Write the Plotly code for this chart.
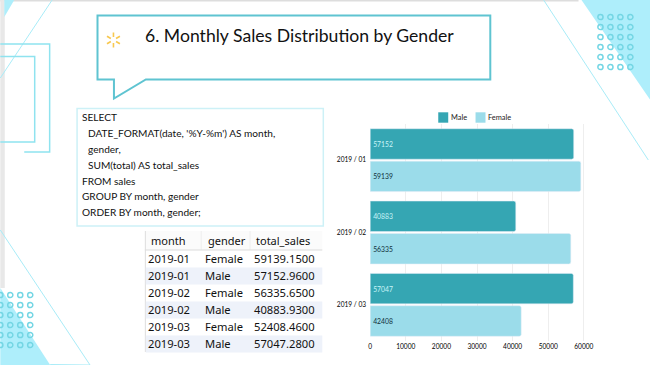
import plotly.graph_objects as go

months = ["2019 / 01", "2019 / 02", "2019 / 03"]
male = [57152, 40883, 57047]
female = [59139, 56335, 42408]
title_text = "6. Monthly Sales Distribution by Gender"
sql_lines = ["SELECT", "  DATE_FORMAT(date, '%Y-%m') AS month,", "  gender,", "  SUM(total) AS total_sales",
             "FROM sales", "GROUP BY month, gender", "ORDER BY month, gender;"]
table_header = ["month", "gender", "total_sales"]
table_month = ["2019-01", "2019-01", "2019-02", "2019-02", "2019-03", "2019-03"]
table_gender = ["Female", "Male", "Female", "Male", "Female", "Male"]
table_total = ["59139.1500", "57152.9600", "56335.6500", "40883.9300", "52408.4600", "57047.2800"]

W, H = 650, 365
TEAL, LIGHT = "#35a6b3", "#9bdcea"
DECOR, LINE, RING = "#aeeefb", "#a9ecf8", "#74d6e4"
FONT = "Lato, sans-serif"
X_SHIFT = 1.7


def px(x):
    return (x - X_SHIFT) / W


def py(y):
    return 1 - y / H


def path(points, close=False):
    d = "M" + " L".join(f"{px(x):.5f},{py(y):.5f}" for x, y in points)
    return d + (" Z" if close else "")


shapes = []


def poly(points, fill=None, color=None, width=1, close=True):
    shapes.append(dict(type="path", xref="paper", yref="paper", layer="below", path=path(points, close),
                       fillcolor=fill if fill else "rgba(0,0,0,0)",
                       line=dict(color=color if color else "rgba(0,0,0,0)", width=width if color else 0)))


def rect(x0, y0, x1, y1, fill=None, color=None, width=1):
    poly([(x0, y0), (x1, y0), (x1, y1), (x0, y1)], fill, color, width)


# page edges
rect(0, 0, 580, 1.5, fill="#dddddd")
rect(0, 0, 4.5, 288, fill="#e8e8e8")

# corner decorations
poly([(4, 0), (14, 0), (4, 17)], fill=DECOR)
poly([(583, 0), (652, 0), (652, 100)], fill=DECOR)
poly([(0, 288), (50, 365), (0, 365)], fill=DECOR)
poly([(52, 0), (0, 78)], color=LINE, close=False)
poly([(0, 230), (90, 365), (50, 364.5)], color=LINE, close=False)
poly([(545, 0), (650, 160)], color=LINE, close=False)
poly([(0, 44), (49.5, 44), (49.5, 152), (24, 152)], color="#8fe3ef", width=1.5, close=False)
poly([(0, 56.5), (34.5, 56.5), (34.5, 142), (0, 142)], color="#8fe3ef", width=1.5, close=False)

for cx in (602, 612, 622, 632):
    for cy in (17, 27, 37, 47, 57, 67):
        shapes.append(dict(type="circle", xref="paper", yref="paper", layer="below",
                           x0=px(cx - 2.6), x1=px(cx + 2.6), y0=py(cy + 2.6), y1=py(cy - 2.6),
                           line=dict(color=RING, width=1.5)))
for cx in (0, 10, 20, 30):
    for cy in (295, 305, 315, 325, 335, 345):
        shapes.append(dict(type="circle", xref="paper", yref="paper", layer="below",
                           x0=px(cx - 2.6), x1=px(cx + 2.6), y0=py(cy + 2.6), y1=py(cy - 2.6),
                           line=dict(color=RING, width=1.5)))

# callout
poly([(97.5, 15.5), (491.5, 15.5), (491.5, 79.5), (146, 79.5), (114, 98.5), (114, 79.5), (97.5, 79.5)],
     fill="white", color="#5fc4d1", width=2)
# spark
for dx0, dy0, dx1, dy1 in [(0, -3, 0, -7.5), (0, 3, 0, 7.5), (2.6, -1.5, 6.5, -3.8),
                           (2.6, 1.5, 6.5, 3.8), (-2.6, -1.5, -6.5, -3.8), (-2.6, 1.5, -6.5, 3.8)]:
    poly([(113.5 + dx0, 40 + dy0), (113.5 + dx1, 40 + dy1)], color="#f8c84e", width=1.6, close=False)

# SQL box
rect(77, 108.5, 324, 226, fill="white", color="#cdf1f7", width=1.5)

# result table
rect(145, 231, 323, 250, fill="#fbfbfb")
for sep in (201, 250):
    rect(sep, 231, sep + 1, 250, fill="#eeeeee")
rect(145, 249.5, 323, 250.5, fill="#dcdcdc")
rect(145, 231, 146, 352, fill="#dddddd")
for row in (1, 3, 5):
    rect(146, 250.5 + row * 17, 323, 250.5 + (row + 1) * 17, fill="#eef2fa")

annotations = []


def label(x, y, text, size, color="#111111", family=FONT):
    annotations.append(dict(xref="paper", yref="paper", x=px(x - 2), y=py(y), text=text, showarrow=False,
                            xanchor="left", yanchor="middle", align="left",
                            font=dict(size=size, color=color, family=family)))


label(145.5, 35.5, title_text, 17.6)
for i, line in enumerate(sql_lines):
    indent = len(line) - len(line.lstrip())
    label(82 + indent * 3, 117 + i * 15.9, line.strip(), 10.1)
TABLE_FONT = "'Noto Sans', sans-serif"
for x, text in zip((151, 208, 256), table_header):
    label(x, 240.5, text, 11, family=TABLE_FONT)
for i, (m, g, t) in enumerate(zip(table_month, table_gender, table_total)):
    y = 258.5 + i * 17
    label(148, y, m, 11.2, family=TABLE_FONT)
    label(205, y, g, 11.2, family=TABLE_FONT)
    label(254, y, t, 11.2, family=TABLE_FONT)

fig = go.Figure()
fig.add_bar(name="Male", y=months, x=male, orientation="h", marker=dict(color=TEAL, cornerradius=2),
            text=male, textposition="inside", insidetextanchor="start", constraintext="none",
            textfont=dict(color="#c9f4f8", size=6.8, family=FONT))
fig.add_bar(name="Female", y=months, x=female, orientation="h", marker=dict(color=LIGHT, cornerradius=2),
            text=female, textposition="inside", insidetextanchor="start", constraintext="none",
            textfont=dict(color="#10303a", size=6.8, family=FONT))

# legend drawn by hand so swatch and label spacing match
for x0, text_x, color, name in ((439.3, 452, TEAL, "Male"), (476.7, 489.5, LIGHT, "Female")):
    rect(x0, 112.3, x0 + 10, 122.7, fill=color)
    label(text_x, 117.5, name, 7.4, color="#222222")

fig.update_layout(
    width=W, height=H, margin=dict(l=0, r=0, t=0, b=0), autosize=False, showlegend=False,
    paper_bgcolor="white", plot_bgcolor="rgba(0,0,0,0)",
    barmode="group", bargap=0.104, bargroupgap=0.06,
    font=dict(family=FONT, size=6.5, color="#000000"),
    shapes=shapes, annotations=annotations,
    xaxis=dict(domain=[px(371), px(600)], range=[0, 64100], tickvals=[0, 10000, 20000, 30000, 40000, 50000, 60000],
               tickformat="d", showgrid=True, gridcolor="#eeeeee", gridwidth=1, zeroline=False, showline=False,
               ticks="", tickfont=dict(size=6.6), anchor="y"),
    yaxis=dict(domain=[py(341), py(124)], autorange="reversed", showgrid=False, zeroline=False,
               showline=False, ticks="", ticklabelstandoff=3, tickfont=dict(size=6.6)),
)
fig.write_html("out.html", post_script="document.body.style.margin='0';", config=dict(displayModeBar=False))
